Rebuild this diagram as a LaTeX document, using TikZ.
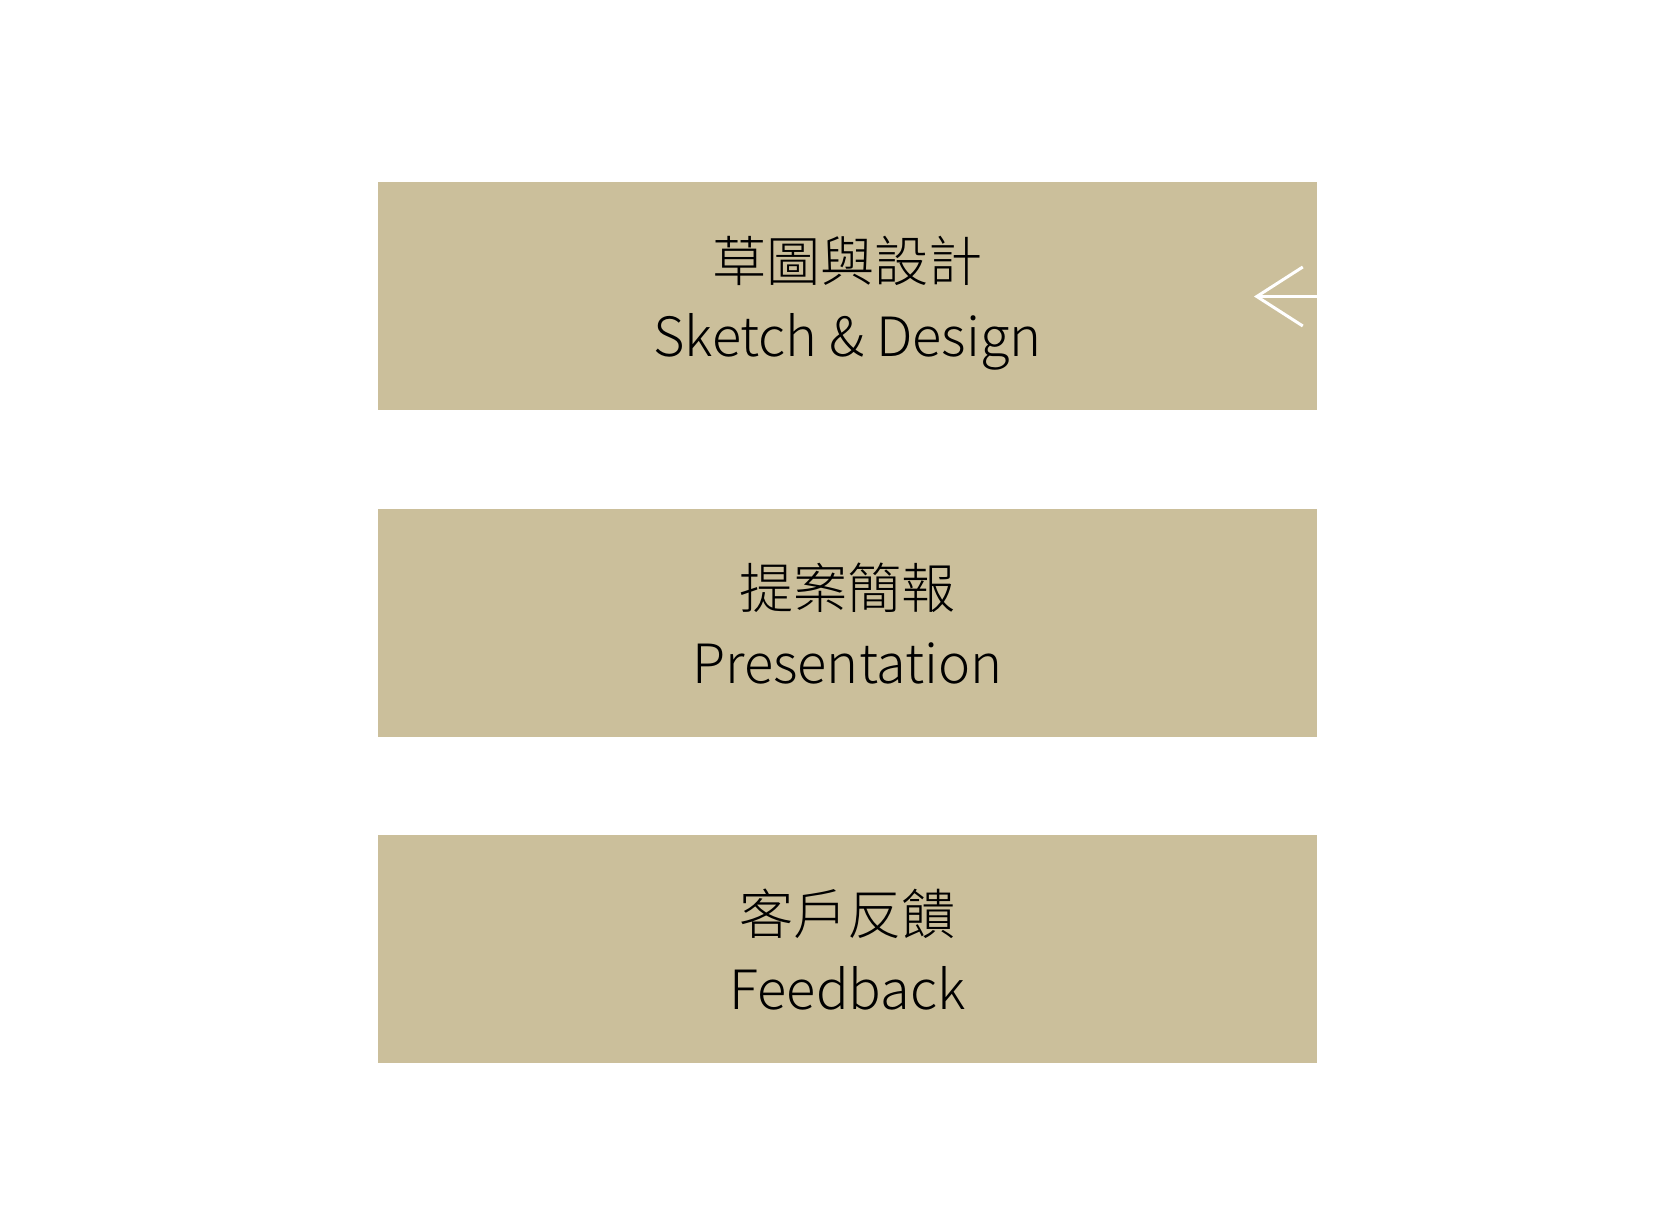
\documentclass[tikz,border=0pt]{standalone}
\usepackage{fontspec}
\usepackage{tikz}
\usetikzlibrary{arrows.meta}
\newfontfamily\cjk{Noto Sans CJK TC}[UprightFont=* Light]
\definecolor{sand}{RGB}{203,191,155}

\begin{document}
\begin{tikzpicture}
  \useasboundingbox (0,0) rectangle (16.78,12.12);
  \tikzset{stage/.style={fill=sand, inner sep=0pt,
      minimum width=9.39cm, minimum height=2.28cm, text depth=0pt,
      align=center, font=\cjk\fontsize{15.4}{21.2}\selectfont}}
  %
  \foreach \y/\name/\zh/\en in {9.155/sketch/草圖與設計/Sketch \& Design,
      5.89/present/提案簡報/Presentation,
      2.63/feedback/客戶反饋/Feedback} {
    \node [stage] (\name) at (8.475,\y) {\zh\\\en};
  }
  %
  \coordinate (tip) at (12.54,9.155);
  \draw [white, line width=0.85pt,
    -{Straight Barb[length=4.6mm, width=5.9mm]}] (sketch.east) -- (tip);
\end{tikzpicture}
\end{document}
